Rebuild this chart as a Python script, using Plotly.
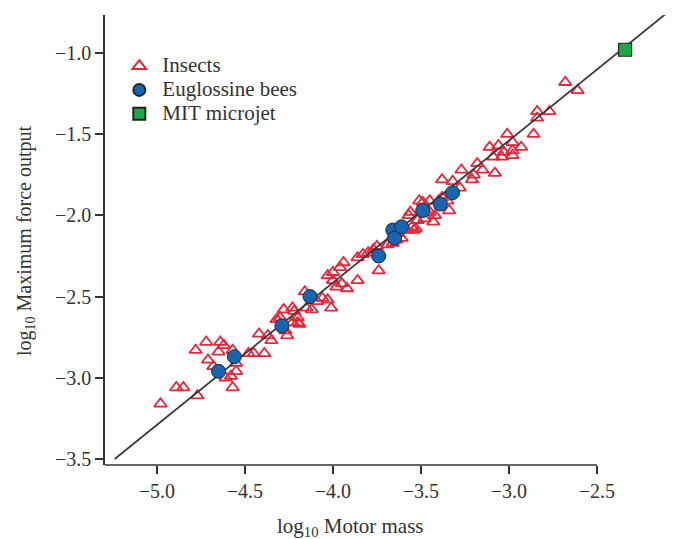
import plotly.graph_objects as go

# ---- data (log10 values) ----
insect_mass = [
    -4.98, -4.89, -4.85, -4.77, -4.78, -4.72, -4.64, -4.62, -4.65, -4.71,
    -4.68, -4.61, -4.58, -4.57, -4.55, -4.55, -4.57, -4.48, -4.45, -4.39,
    -4.42, -4.37, -4.35, -4.32, -4.28, -4.23, -4.30, -4.26, -4.23, -4.20,
    -4.27, -4.22, -4.20, -4.19, -4.15, -4.12, -4.16, -4.09, -4.06, -4.01,
    -4.03, -4.03, -4.00, -3.96, -3.94, -3.95, -3.92, -3.98, -4.00, -3.86,
    -3.74, -3.86, -3.83, -3.80, -3.77, -3.69, -3.66, -3.64, -3.61, -3.57,
    -3.55, -3.53, -3.52, -3.51, -3.48, -3.47, -3.45, -3.42, -3.34, -3.38,
    -3.32, -3.27, -3.20, -3.21, -3.18, -3.15, -3.08, -3.11, -3.06, -3.03,
    -3.01, -3.09, -3.04, -3.38, -3.40, -3.35, -3.45, -3.49, -3.54, -3.43,
    -3.56, -3.28, -2.68, -2.61, -2.84, -2.77, -2.84, -2.86, -2.98, -2.93,
    -2.98, -2.98, -3.63, -3.58, -3.75,
]
insect_force = [
    -3.16, -3.06, -3.06, -3.11, -2.83, -2.78, -2.78, -2.80, -2.84, -2.89,
    -2.93, -3.00, -2.99, -3.06, -2.96, -2.91, -2.83, -2.85, -2.85, -2.85,
    -2.73, -2.74, -2.77, -2.64, -2.58, -2.57, -2.63, -2.74, -2.66, -2.66,
    -2.71, -2.59, -2.63, -2.67, -2.57, -2.58, -2.47, -2.53, -2.51, -2.57,
    -2.52, -2.37, -2.35, -2.32, -2.29, -2.42, -2.45, -2.44, -2.40, -2.40,
    -2.34, -2.26, -2.24, -2.23, -2.21, -2.18, -2.17, -2.15, -2.14, -2.00,
    -2.07, -2.08, -2.03, -1.91, -2.02, -1.98, -1.98, -2.00, -1.97, -1.78,
    -1.79, -1.72, -1.75, -1.78, -1.68, -1.72, -1.74, -1.58, -1.57, -1.61,
    -1.50, -1.64, -1.64, -1.89, -1.91, -1.91, -1.91, -1.92, -2.09, -2.04,
    -1.98, -1.83, -1.18, -1.23, -1.36, -1.36, -1.40, -1.50, -1.55, -1.58,
    -1.60, -1.63, -2.11, -2.09, -2.19,
]

bee_mass = [-4.65, -4.56, -4.29, -4.13, -3.74, -3.66, -3.65, -3.61, -3.49, -3.39, -3.32]
bee_force = [-2.96, -2.87, -2.68, -2.50, -2.25, -2.09, -2.14, -2.07, -1.97, -1.93, -1.86]

microjet_mass = [-2.34]
microjet_force = [-0.98]

fit_mass = [-5.24, -2.11]
fit_force = [-3.50, -0.76]

x_ticks = [-5.0, -4.5, -4.0, -3.5, -3.0, -2.5]
y_ticks = [-1.0, -1.5, -2.0, -2.5, -3.0, -3.5]

# ---- style ----
FONT = "Liberation Serif, Times New Roman, serif"
INK = "#333333"
RED = "#e8263a"
BLUE = "#1565b3"
GREEN = "#1fa84a"

fig = go.Figure()

fig.add_trace(go.Scatter(
    x=insect_mass, y=insect_force, mode="markers",
    name='<span style="font-size:21px">Insects</span>',
    marker=dict(symbol="triangle-up-open", size=11, color=RED,
                line=dict(color=RED, width=1.8)),
    cliponaxis=False,
))
fig.add_trace(go.Scatter(
    x=fit_mass, y=fit_force, mode="lines", showlegend=False,
    line=dict(color="#3a3a3a", width=1.8),
))
fig.add_trace(go.Scatter(
    x=bee_mass, y=bee_force, mode="markers",
    name='<span style="font-size:21px">Euglossine bees</span>',
    marker=dict(symbol="circle", size=14, color=BLUE,
                line=dict(color="#1a2a3a", width=1)),
))
fig.add_trace(go.Scatter(
    x=microjet_mass, y=microjet_force, mode="markers",
    name='<span style="font-size:21px">MIT microjet</span>',
    marker=dict(symbol="square", size=13, color=GREEN,
                line=dict(color="#1a2a1a", width=1.2)),
))

x_lo, x_hi = -5.295, -2.085
fig.add_shape(type="line", xref="x", yref="paper",
              x0=x_lo, x1=x_ticks[-1], y0=0, y1=0,
              line=dict(color=INK, width=1.5))

# the page body adds an 8px margin, so the figure is 8px smaller each way
fig.update_layout(
    width=685, height=531,
    margin=dict(l=97, r=23, t=7, b=74),
    paper_bgcolor="white", plot_bgcolor="white",
    font=dict(family=FONT, size=20, color=INK),
    showlegend=True,
    legend=dict(x=0.02, y=0.924, xanchor="left", yanchor="top", itemwidth=36,
                bgcolor="rgba(0,0,0,0)", font=dict(family=FONT, size=16, color=INK),
                itemsizing="constant"),
    xaxis=dict(range=[x_lo, x_hi], tickvals=x_ticks, tickformat=".1f",
               showline=False, showgrid=False, zeroline=False,
               ticks="outside", ticklen=8, tickwidth=1.5, tickcolor=INK,
               tickfont=dict(family=FONT, size=20, color=INK)),
    yaxis=dict(range=[-3.537, -0.766], tickvals=y_ticks, tickformat=".1f",
               showline=True, linecolor=INK, linewidth=1.5,
               showgrid=False, zeroline=False,
               ticks="outside", ticklen=8, tickwidth=1.5, tickcolor=INK,
               tickfont=dict(family=FONT, size=20, color=INK)),
    annotations=[
        dict(text="log<sub>10</sub> Motor mass", xref="x", yref="paper",
             x=-3.898, y=-0.138, xanchor="center", yanchor="middle",
             showarrow=False, font=dict(family=FONT, size=21, color=INK)),
        dict(text="log<sub>10</sub> Maximum force output", xref="paper", yref="paper",
             x=-0.1416, y=0.5, xanchor="center", yanchor="middle", textangle=-90,
             showarrow=False, font=dict(family=FONT, size=20, color=INK)),
    ],
)

fig.write_html("out.html")
